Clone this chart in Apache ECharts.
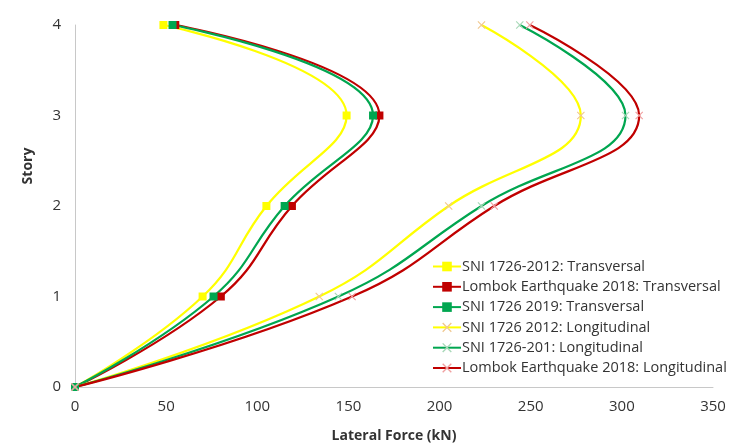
<!DOCTYPE html>
<html>
<head>
<meta charset="utf-8">
<script src="https://cdn.jsdelivr.net/npm/echarts@6/dist/echarts.min.js"></script>
<style>
  html, body { margin: 0; padding: 0; background: #fff; }
  #chart { width: 751px; height: 448px; }
</style>
</head>
<body>
<div id="chart"></div>
<script>
  // story levels and lateral forces (kN)
  const stories = [0, 1, 2, 3, 4];
  const sni2012Trans = [0, 70, 105, 149, 48.5];
  const lombokTrans = [0, 80, 119, 167, 55];
  const sni2019Trans = [0, 76, 115, 163.5, 53.5];
  const sni2012Long = [0, 134, 205, 277.5, 223];
  const sni201Long = [0, 144.5, 223, 302, 244];
  const lombokLong = [0, 152, 230, 309.5, 249.5];
  const xTicks = [0, 50, 100, 150, 200, 250, 300, 350];
  const yTicks = [0, 1, 2, 3, 4];

  const chart = echarts.init(document.getElementById('chart'));

  const cross = 'path://M0,1L1,0L5,4L9,0L10,1L6,5L10,9L9,10L5,6L1,10L0,9L4,5Z';

  function pts(vals) {
    return vals.map((v, i) => [v, stories[i]]);
  }

  function makeSeries(name, vals, color, symbol, markColor) {
    return {
      name: name,
      type: 'line',
      data: pts(vals),
      smooth: 0.45,
      symbol: symbol,
      symbolSize: 8,
      showSymbol: true,
      lineStyle: { color: color, width: 2.25 },
      itemStyle: { color: markColor || color, opacity: 1 },
      emphasis: { disabled: true },
      z: 2
    };
  }

  const option = {
    animation: false,
    backgroundColor: '#fff',
    textStyle: { fontFamily: 'Open Sans' },
    grid: { left: 75, right: 38, top: 25, bottom: 60 },
    legend: {
      orient: 'vertical',
      left: 428,
      top: 257,
      itemWidth: 28,
      itemHeight: 12,
      itemGap: 5.3,
      backgroundColor: '#fff',
      padding: [2, 4],
      textStyle: { fontSize: 14.5, lineHeight: 14, color: '#333', fontFamily: 'Open Sans', padding: [0, 0, 0, -4] },
      data: [
        'SNI 1726-2012: Transversal',
        'Lombok Earthquake 2018: Transversal',
        'SNI 1726 2019: Transversal',
        'SNI 1726 2012: Longitudinal',
        'SNI 1726-201: Longitudinal',
        'Lombok Earthquake 2018: Longitudinal'
      ]
    },
    xAxis: {
      type: 'value',
      min: 0,
      max: 350,
      interval: 50,
      name: 'Lateral Force (kN)',
      nameLocation: 'middle',
      nameGap: 42,
      nameTextStyle: { fontSize: 14, fontWeight: 'bold', color: '#333' },
      axisLine: { show: true, lineStyle: { color: '#c8c8c8', width: 1 } },
      axisTick: { show: false },
      splitLine: { show: false },
      axisLabel: {
        fontSize: 15, color: '#333', margin: 12,
        formatter: v => xTicks.includes(v) ? String(v) : ''
      }
    },
    yAxis: {
      type: 'value',
      min: 0,
      max: 4,
      interval: 1,
      name: 'Story',
      nameLocation: 'middle',
      nameGap: 40,
      nameRotate: 90,
      nameTextStyle: { fontSize: 14, fontWeight: 'bold', color: '#333', padding: [0, 0, 0, 80] },
      axisLine: { show: true, lineStyle: { color: '#c8c8c8', width: 1 } },
      axisTick: { show: false },
      splitLine: { show: false },
      axisLabel: {
        fontSize: 15, color: '#333', margin: 14,
        formatter: v => yTicks.includes(v) ? String(v) : ''
      }
    },
    series: [
      makeSeries('SNI 1726-2012: Transversal', sni2012Trans, '#ffff00', 'rect'),
      makeSeries('Lombok Earthquake 2018: Transversal', lombokTrans, '#c00000', 'rect'),
      makeSeries('SNI 1726 2019: Transversal', sni2019Trans, '#00a650', 'rect'),
      makeSeries('SNI 1726 2012: Longitudinal', sni2012Long, '#ffff00', cross, '#f0c890'),
      makeSeries('SNI 1726-201: Longitudinal', sni201Long, '#00a650', cross, '#a8d8b8'),
      makeSeries('Lombok Earthquake 2018: Longitudinal', lombokLong, '#c00000', cross, '#f0a0a0')
    ]
  };

  chart.setOption(option);
</script>
</body>
</html>
